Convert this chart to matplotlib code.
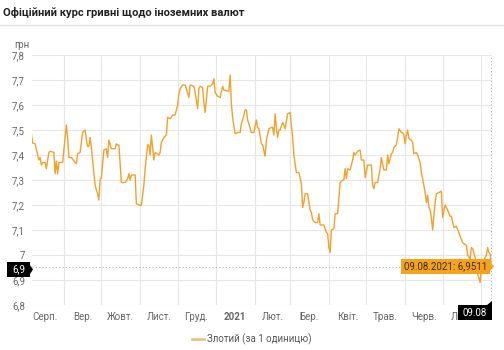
import matplotlib
matplotlib.use('Agg')
import matplotlib.pyplot as plt
import matplotlib.dates as mdates
from matplotlib.patches import Rectangle, Polygon
import numpy as np
import datetime as dt

# PLN -> UAH official rate, Aug 2020 - Aug 2021
dates = [
    '2020-08-06', '2020-08-07', '2020-08-09', '2020-08-11', '2020-08-12', '2020-08-13', '2020-08-14',
    '2020-08-15', '2020-08-17', '2020-08-18', '2020-08-20', '2020-08-21', '2020-08-24', '2020-08-25',
    '2020-08-26', '2020-08-27', '2020-08-28', '2020-08-31', '2020-09-02', '2020-09-03', '2020-09-04',
    '2020-09-05', '2020-09-07', '2020-09-10', '2020-09-11', '2020-09-12', '2020-09-14', '2020-09-16',
    '2020-09-18', '2020-09-19', '2020-09-20', '2020-09-21', '2020-09-22', '2020-09-23', '2020-09-24',
    '2020-09-26', '2020-09-27', '2020-09-28', '2020-09-29', '2020-09-30', '2020-10-01', '2020-10-03',
    '2020-10-05', '2020-10-06', '2020-10-07', '2020-10-09', '2020-10-12', '2020-10-13', '2020-10-14',
    '2020-10-15', '2020-10-17', '2020-10-20', '2020-10-22', '2020-10-23', '2020-10-24', '2020-10-25',
    '2020-10-27', '2020-10-28', '2020-10-29', '2020-10-31', '2020-11-02', '2020-11-04', '2020-11-05',
    '2020-11-07', '2020-11-08', '2020-11-09', '2020-11-10', '2020-11-12', '2020-11-13', '2020-11-16',
    '2020-11-17', '2020-11-18', '2020-11-20', '2020-11-22', '2020-11-23', '2020-11-25', '2020-11-27',
    '2020-11-29', '2020-12-01', '2020-12-02', '2020-12-03', '2020-12-05', '2020-12-07', '2020-12-08',
    '2020-12-10', '2020-12-11', '2020-12-14', '2020-12-15', '2020-12-17', '2020-12-18', '2020-12-19',
    '2020-12-21', '2020-12-22', '2020-12-23', '2020-12-25', '2020-12-27', '2020-12-29', '2020-12-30',
    '2020-12-31', '2021-01-02', '2021-01-04', '2021-01-06', '2021-01-07', '2021-01-11', '2021-01-12',
    '2021-01-13', '2021-01-14', '2021-01-16', '2021-01-18', '2021-01-20', '2021-01-21', '2021-01-22',
    '2021-01-24', '2021-01-25', '2021-01-26', '2021-01-27', '2021-01-29', '2021-01-31', '2021-02-02',
    '2021-02-03', '2021-02-04', '2021-02-06', '2021-02-07', '2021-02-09', '2021-02-10', '2021-02-12',
    '2021-02-14', '2021-02-15', '2021-02-16', '2021-02-17', '2021-02-18', '2021-02-19', '2021-02-20',
    '2021-02-21', '2021-02-23', '2021-02-24', '2021-02-25', '2021-02-27', '2021-03-01', '2021-03-03',
    '2021-03-04', '2021-03-06', '2021-03-08', '2021-03-10', '2021-03-11', '2021-03-12', '2021-03-13',
    '2021-03-15', '2021-03-17', '2021-03-18', '2021-03-19', '2021-03-21', '2021-03-23', '2021-03-24',
    '2021-03-25', '2021-03-28', '2021-03-30', '2021-03-31', '2021-04-01', '2021-04-02', '2021-04-03',
    '2021-04-05', '2021-04-06', '2021-04-08', '2021-04-10', '2021-04-12', '2021-04-13', '2021-04-14',
    '2021-04-15', '2021-04-16', '2021-04-18', '2021-04-20', '2021-04-21', '2021-04-22', '2021-04-24',
    '2021-04-26', '2021-04-27', '2021-04-29', '2021-04-30', '2021-05-02', '2021-05-04', '2021-05-05',
    '2021-05-06', '2021-05-07', '2021-05-08', '2021-05-10', '2021-05-12', '2021-05-13', '2021-05-15',
    '2021-05-16', '2021-05-17', '2021-05-18', '2021-05-19', '2021-05-21', '2021-05-22', '2021-05-23',
    '2021-05-25', '2021-05-26', '2021-05-27', '2021-05-29', '2021-05-30', '2021-05-31', '2021-06-01',
    '2021-06-02', '2021-06-03', '2021-06-04', '2021-06-06', '2021-06-07', '2021-06-08', '2021-06-10',
    '2021-06-11', '2021-06-13', '2021-06-14', '2021-06-15', '2021-06-17', '2021-06-18', '2021-06-19',
    '2021-06-20', '2021-06-21', '2021-06-22', '2021-06-23', '2021-06-25', '2021-06-26', '2021-06-28',
    '2021-06-30', '2021-07-01', '2021-07-03', '2021-07-04', '2021-07-05', '2021-07-07', '2021-07-08',
    '2021-07-10', '2021-07-12', '2021-07-14', '2021-07-15', '2021-07-17', '2021-07-18', '2021-07-20',
    '2021-07-21', '2021-07-23', '2021-07-24', '2021-07-25', '2021-07-27', '2021-07-28', '2021-07-29',
    '2021-07-31', '2021-08-01', '2021-08-02', '2021-08-04', '2021-08-05', '2021-08-06', '2021-08-07',
    '2021-08-08', '2021-08-09',
]
values = [
    7.486, 7.448, 7.445, 7.40, 7.38, 7.39, 7.36,
    7.37, 7.37, 7.345, 7.41, 7.415, 7.41, 7.325,
    7.375, 7.325, 7.37, 7.37, 7.47, 7.52, 7.47,
    7.39, 7.39, 7.37, 7.365, 7.405, 7.41, 7.49,
    7.50, 7.46, 7.435, 7.435, 7.47, 7.43, 7.38,
    7.28, 7.26, 7.245, 7.22, 7.30, 7.31, 7.42,
    7.425, 7.39, 7.46, 7.425, 7.425, 7.445, 7.44,
    7.44, 7.29, 7.29, 7.305, 7.325, 7.30, 7.32,
    7.32, 7.32, 7.205, 7.20, 7.198, 7.28, 7.345,
    7.44, 7.44, 7.40, 7.48, 7.38, 7.41, 7.40,
    7.41, 7.45, 7.47, 7.48, 7.55, 7.545, 7.56,
    7.56, 7.60, 7.645, 7.665, 7.68, 7.68, 7.665,
    7.63, 7.68, 7.675, 7.65, 7.585, 7.665, 7.675,
    7.67, 7.61, 7.57, 7.675, 7.675, 7.685, 7.705,
    7.65, 7.635, 7.63, 7.675, 7.66, 7.655, 7.72,
    7.605, 7.55, 7.485, 7.49, 7.49, 7.525, 7.54,
    7.58, 7.58, 7.54, 7.525, 7.49, 7.49, 7.54,
    7.51, 7.505, 7.445, 7.44, 7.395, 7.46, 7.505,
    7.51, 7.51, 7.48, 7.565, 7.51, 7.47, 7.50,
    7.50, 7.53, 7.52, 7.505, 7.565, 7.57, 7.47,
    7.40, 7.33, 7.33, 7.285, 7.19, 7.21, 7.245,
    7.245, 7.18, 7.17, 7.14, 7.13, 7.13, 7.165,
    7.12, 7.12, 7.09, 7.085, 7.03, 7.01, 7.10,
    7.105, 7.165, 7.165, 7.29, 7.30, 7.30, 7.345,
    7.305, 7.345, 7.34, 7.38, 7.41, 7.40, 7.415,
    7.42, 7.38, 7.38, 7.31, 7.36, 7.36, 7.36,
    7.28, 7.265, 7.29, 7.29, 7.345, 7.39, 7.34,
    7.34, 7.34, 7.40, 7.365, 7.405, 7.41, 7.43,
    7.44, 7.47, 7.505, 7.49, 7.49, 7.48, 7.445,
    7.48, 7.50, 7.465, 7.46, 7.45, 7.405, 7.41,
    7.40, 7.37, 7.33, 7.305, 7.25, 7.21, 7.24,
    7.19, 7.18, 7.15, 7.10, 7.21, 7.245, 7.25,
    7.255, 7.15, 7.20, 7.19, 7.18, 7.155, 7.155,
    7.11, 7.115, 7.09, 7.075, 7.05, 7.045, 7.04,
    7.00, 6.985, 7.03, 7.025, 6.99, 6.95, 6.925,
    6.89, 6.95, 6.97, 6.99, 7.00, 7.03, 7.01,
    7.005, 6.9511,
]

month_starts = ['2020-09-01', '2020-10-01', '2020-11-01', '2020-12-01', '2021-01-01', '2021-02-01',
                '2021-03-01', '2021-04-01', '2021-05-01', '2021-06-01', '2021-07-01', '2021-08-01']
label_dates = ['2020-08-17', '2020-09-16', '2020-10-16', '2020-11-16', '2020-12-16', '2021-01-16',
               '2021-02-15', '2021-03-16', '2021-04-16', '2021-05-16', '2021-06-16', '2021-07-16']
month_labels = ['Серп.', 'Вер.', 'Жовт.', 'Лист.', 'Груд.', '2021',
                'Лют.', 'Бер.', 'Квіт.', 'Трав.', 'Черв.', 'Лип.']
y_ticks = [6.8, 6.9, 7.0, 7.1, 7.2, 7.3, 7.4, 7.5, 7.6, 7.7, 7.8]

plt.rcParams['font.family'] = ['Roboto', 'DejaVu Sans']

W, H = 504, 350
LINE = '#f2a12a'
GRID = '#e6e6e6'
TXT = '#666666'


def fx(x):
    return x / W


def fy(y):
    return 1 - y / H


x = [dt.datetime.strptime(d, '%Y-%m-%d') for d in dates]

fig = plt.figure(figsize=(W / 100, H / 100), dpi=100)
fig.patch.set_facecolor('white')

# header
fig.text(fx(3), fy(12), 'Офіційний курс гривні щодо іноземних валют', fontsize=8, fontweight='bold',
         color='#222222', va='center', ha='left')
fig.add_artist(plt.Line2D([0, 1], [fy(25), fy(25)], color='#e0e0e0', lw=1))
fig.text(fx(14), fy(45), 'грн', fontsize=7, color=TXT, va='center', ha='left')

ax = fig.add_axes([fx(32), fy(305), fx(460), 250 / H])
ax.plot(x, values, color=LINE, lw=1.0, zorder=3)

ax.set_xlim(dt.datetime(2020, 8, 6, 12), dt.datetime(2021, 8, 9, 12))
ax.set_ylim(6.8, 7.8)

ax.set_yticks(y_ticks)
ax.set_yticklabels([('%g' % v).replace('.', ',') for v in y_ticks])
ax.set_xticks([dt.datetime.strptime(d, '%Y-%m-%d') for d in month_starts])
ax.set_xticklabels([])
ax.set_xticks([dt.datetime.strptime(d, '%Y-%m-%d') for d in label_dates], minor=True)
ax.set_xticklabels(month_labels, minor=True)
for lbl in ax.get_xticklabels(minor=True):
    if lbl.get_text() == '2021':
        lbl.set_fontweight('bold')
        lbl.set_color('#222222')

ax.tick_params(axis='both', which='both', length=0, labelsize=7, labelcolor=TXT)
ax.tick_params(axis='y', pad=5)
ax.tick_params(axis='x', which='minor', pad=5)
ax.grid(True, which='major', color=GRID, lw=0.8)
for s in ax.spines.values():
    s.set_visible(False)

# crosshair at the last point
last = x[-1]
ax.axvline(last, color='#b0b0b0', lw=0.8, ls=(0, (1, 2)), zorder=2)
ax.axhline(values[-1], color='#b0b0b0', lw=0.8, ls=(0, (1, 2)), zorder=2)

# orange tooltip
fig.add_artist(Rectangle((fx(401), fy(274)), fx(89), 15 / H, transform=fig.transFigure,
                         facecolor='#f7a21b', edgecolor='none', zorder=5))
fig.add_artist(Polygon([[fx(490), fy(262)], [fx(494), fy(266.5)], [fx(490), fy(271)]],
                       closed=True, transform=fig.transFigure, facecolor='#f7a21b',
                       edgecolor='none', zorder=5))
fig.text(fx(445.5), fy(266.5), '09.08.2021: %s' % str(values[-1]).replace('.', ','),
         fontsize=7, color='#3a2a10', ha='center', va='center', zorder=6)

# black axis badges
fig.add_artist(Rectangle((fx(7), fy(277)), fx(23), 15 / H, transform=fig.transFigure,
                         facecolor='black', edgecolor='none', zorder=5))
fig.add_artist(Polygon([[fx(30), fy(265)], [fx(33), fy(269.5)], [fx(30), fy(274)]],
                       closed=True, transform=fig.transFigure, facecolor='black',
                       edgecolor='none', zorder=5))
fig.text(fx(18.5), fy(269.5), '6,9', fontsize=7, color='white', ha='center', va='center', zorder=6)

fig.add_artist(Rectangle((fx(458), fy(320)), fx(34), 15 / H, transform=fig.transFigure,
                         facecolor='black', edgecolor='none', zorder=5))
fig.add_artist(Polygon([[fx(487), fy(305)], [fx(492), fy(301)], [fx(492), fy(305)]],
                       closed=True, transform=fig.transFigure, facecolor='black',
                       edgecolor='none', zorder=5))
fig.text(fx(475), fy(312.5), '09.08', fontsize=7, color='white', ha='center', va='center', zorder=6)

# legend
fig.add_artist(plt.Line2D([fx(192), fx(204)], [fy(339), fy(339)], color='#e8c57a', lw=2))
fig.text(fx(207), fy(339), 'Злотий (за 1 одиницю)', fontsize=7, color='#555555', ha='left', va='center')

fig.savefig('out.png', dpi=100)
